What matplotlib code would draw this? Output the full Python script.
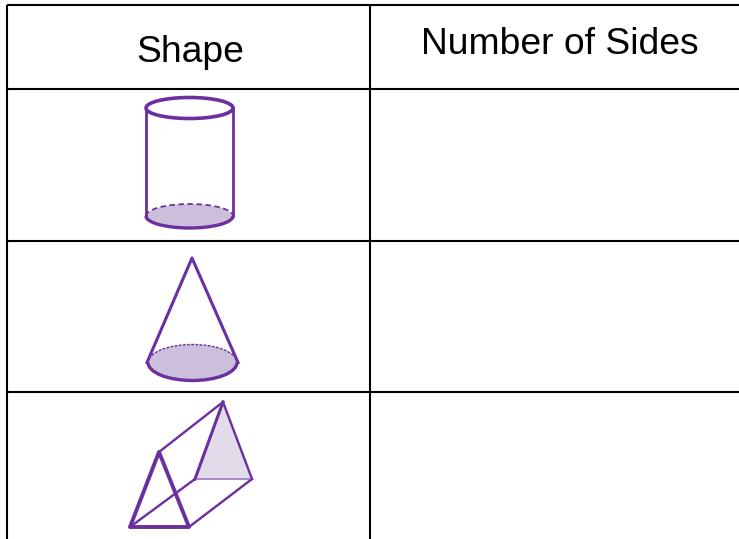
import numpy as np
import matplotlib
matplotlib.use('Agg')
import matplotlib.pyplot as plt
from matplotlib.patches import Ellipse, Polygon, Arc

# everything is in pixels of the reference
column_edges = [7, 370]
row_edges = [5, 89, 241, 392]
headers = ['Shape', 'Number of Sides']
header_centers = [(190, 53), (560, 44)]

cylinder_x = [146, 233]
cylinder_top_y = 108
cylinder_bottom_y = 216
cone_apex = (192, 258)
cone_base_x = [147, 238]
cone_base_y = 362.5
prism_front = [(159, 452), (130, 527), (189, 527)]
prism_back = [(223, 402), (195, 479), (252, 479)]

purple = '#6b2fa0'
shade = '#cbbfdb'
light_shade = '#e2dcea'

fig = plt.figure(figsize=(7.39, 5.39), dpi=100)
ax = fig.add_axes([0, 0, 1, 1])
ax.set_xlim(0, 739)
ax.set_ylim(539, 0)
ax.axis('off')

# table grid
for y in row_edges:
    ax.plot([column_edges[0], 739], [y, y], color='black', lw=1.5, solid_capstyle='butt')
for x in column_edges:
    ax.plot([x, x], [row_edges[0], 539], color='black', lw=1.5, solid_capstyle='butt')

for label, (x, y) in zip(headers, header_centers):
    ax.text(x, y, label, ha='center', va='center', fontsize=26.8,
            family='Liberation Sans', color='black')

# cylinder
w = cylinder_x[1] - cylinder_x[0]
cx = sum(cylinder_x) / 2
ax.add_patch(Ellipse((cx, cylinder_bottom_y), w, 24, fc=shade, ec='none'))
ax.add_patch(Arc((cx, cylinder_bottom_y), w, 24, theta1=180, theta2=360, ec=purple, lw=1.3, linestyle=(0, (3, 2))))
ax.add_patch(Arc((cx, cylinder_bottom_y), w, 24, theta1=0, theta2=180, ec=purple, lw=2.4))
ax.add_patch(Ellipse((cx, cylinder_top_y), w, 21, fc='white', ec=purple, lw=2.6))
ax.plot([cylinder_x[0]] * 2, [cylinder_top_y, cylinder_bottom_y], color=purple, lw=2.0)
ax.plot([cylinder_x[1]] * 2, [cylinder_top_y, cylinder_bottom_y], color=purple, lw=2.0)

# cone
w = cone_base_x[1] - cone_base_x[0]
cx = sum(cone_base_x) / 2
ax.add_patch(Ellipse((cx, cone_base_y), w - 2, 36, fc=shade, ec='none'))
ax.add_patch(Arc((cx, cone_base_y), w - 2, 36, theta1=180, theta2=360, ec=purple, lw=1, linestyle=(0, (2, 1))))
ax.add_patch(Arc((cx, cone_base_y), w - 2, 36, theta1=0, theta2=180, ec=purple, lw=2.4))
ax.plot([cone_base_x[0], cone_apex[0], cone_base_x[1]], [cone_base_y, cone_apex[1], cone_base_y],
        color=purple, lw=2.2, solid_joinstyle='round')

# triangular prism
ax.add_patch(Polygon(prism_back, closed=True, fc=light_shade, ec='none'))
ax.plot([prism_back[0][0], prism_back[1][0]], [prism_back[0][1], prism_back[1][1]], color=purple, lw=2.2)
ax.plot([prism_back[0][0], prism_back[2][0]], [prism_back[0][1], prism_back[2][1]], color=purple, lw=1.7)
ax.plot([prism_back[1][0], prism_back[2][0]], [prism_back[1][1], prism_back[2][1]], color='#9a78bd', lw=1.2)
for front, back in zip(prism_front, prism_back):
    ax.plot([front[0], back[0]], [front[1], back[1]], color=purple, lw=1.7)
ax.add_patch(Polygon(prism_front, closed=True, fc='none', ec=purple, lw=2.8, joinstyle='round'))

fig.savefig('out.png', dpi=100)
